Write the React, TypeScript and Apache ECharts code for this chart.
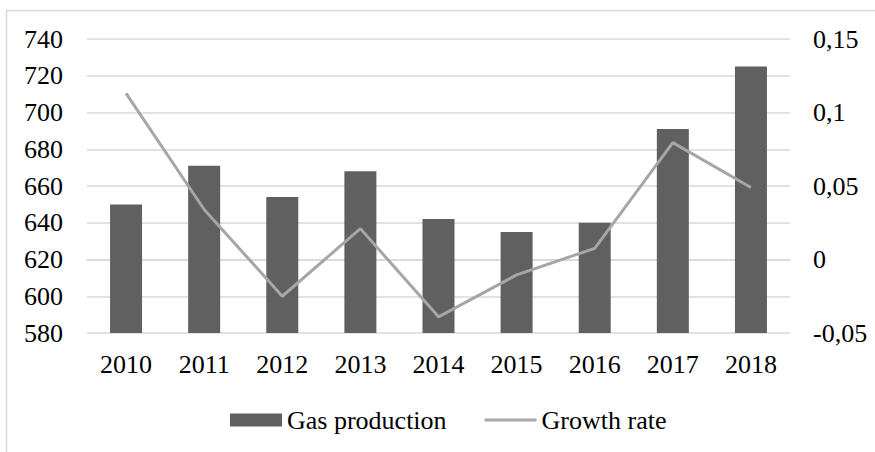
import React, { useEffect, useRef } from "react";
import * as echarts from "echarts";

const years = ["2010", "2011", "2012", "2013", "2014", "2015", "2016", "2017", "2018"];
const gasProduction = [650, 671, 654, 668, 642, 635, 640, 691, 725];
const growthRate = [0.113, 0.034, -0.025, 0.021, -0.039, -0.0105, 0.0076, 0.0795, 0.049];

const FONT = "Times New Roman, Liberation Serif, serif";
const FS = 26;

export default function App() {
  const ref = useRef<HTMLDivElement>(null);
  useEffect(() => {
    if (!ref.current) return;
    const chart = echarts.init(ref.current, undefined, { renderer: "svg" });
    chart.setOption({
      animation: false,
      backgroundColor: "#ffffff",
      textStyle: { fontFamily: FONT, color: "#000" },
      graphic: [
        {
          type: "rect",
          shape: { x: 6.5, y: 10.5, width: 1000, height: 1000 },
          style: { fill: "none", stroke: "#d9d9d9", lineWidth: 1.5 },
          silent: true,
        },
      ],
      grid: { left: 87, right: 85, top: 39, bottom: 119, containLabel: false },
      legend: {
        bottom: 14,
        left: 225,
        itemWidth: 52,
        itemHeight: 13,
        itemGap: 38,
        textStyle: { fontFamily: FONT, fontSize: FS, color: "#000" },
        data: [
          { name: "Gas production", icon: "rect" },
          { name: "Growth rate", icon: "path://M0,0 L52,0 L52,3 L0,3 Z", itemStyle: { color: "#a6a6a6" } },
        ],
      },
      xAxis: {
        type: "category",
        data: years,
        axisTick: { show: false },
        axisLine: { lineStyle: { color: "#d9d9d9", width: 1.5 } },
        axisLabel: { fontFamily: FONT, fontSize: FS, color: "#000", margin: 18 },
      },
      yAxis: [
        {
          type: "value",
          min: 580,
          max: 740,
          interval: 20,
          axisLine: { show: false },
          axisTick: { show: false },
          splitLine: { lineStyle: { color: "#d9d9d9", width: 1.5 } },
          axisLabel: { fontFamily: FONT, fontSize: FS, color: "#000", margin: 24 },
        },
        {
          type: "value",
          min: -0.05,
          max: 0.15,
          interval: 0.05,
          axisLine: { show: false },
          axisTick: { show: false },
          splitLine: { show: false },
          axisLabel: {
            fontFamily: FONT,
            fontSize: FS,
            color: "#000",
            margin: 23,
            formatter: (v: number) => String(Number(v.toFixed(2))).replace(".", ","),
          },
        },
      ],
      series: [
        {
          name: "Gas production",
          type: "bar",
          data: gasProduction,
          barWidth: 32,
          itemStyle: { color: "#606060" },
          yAxisIndex: 0,
        },
        {
          name: "Growth rate",
          type: "line",
          data: growthRate,
          yAxisIndex: 1,
          symbol: "none",
          lineStyle: { color: "#a6a6a6", width: 3 },
          itemStyle: { color: "#a6a6a6" },
        },
      ],
    });
    return () => chart.dispose();
  }, []);
  return (
    <div
      ref={ref}
      style={{ position: "fixed", left: 0, top: 0, width: 875, height: 452 }}
    />
  );
}
